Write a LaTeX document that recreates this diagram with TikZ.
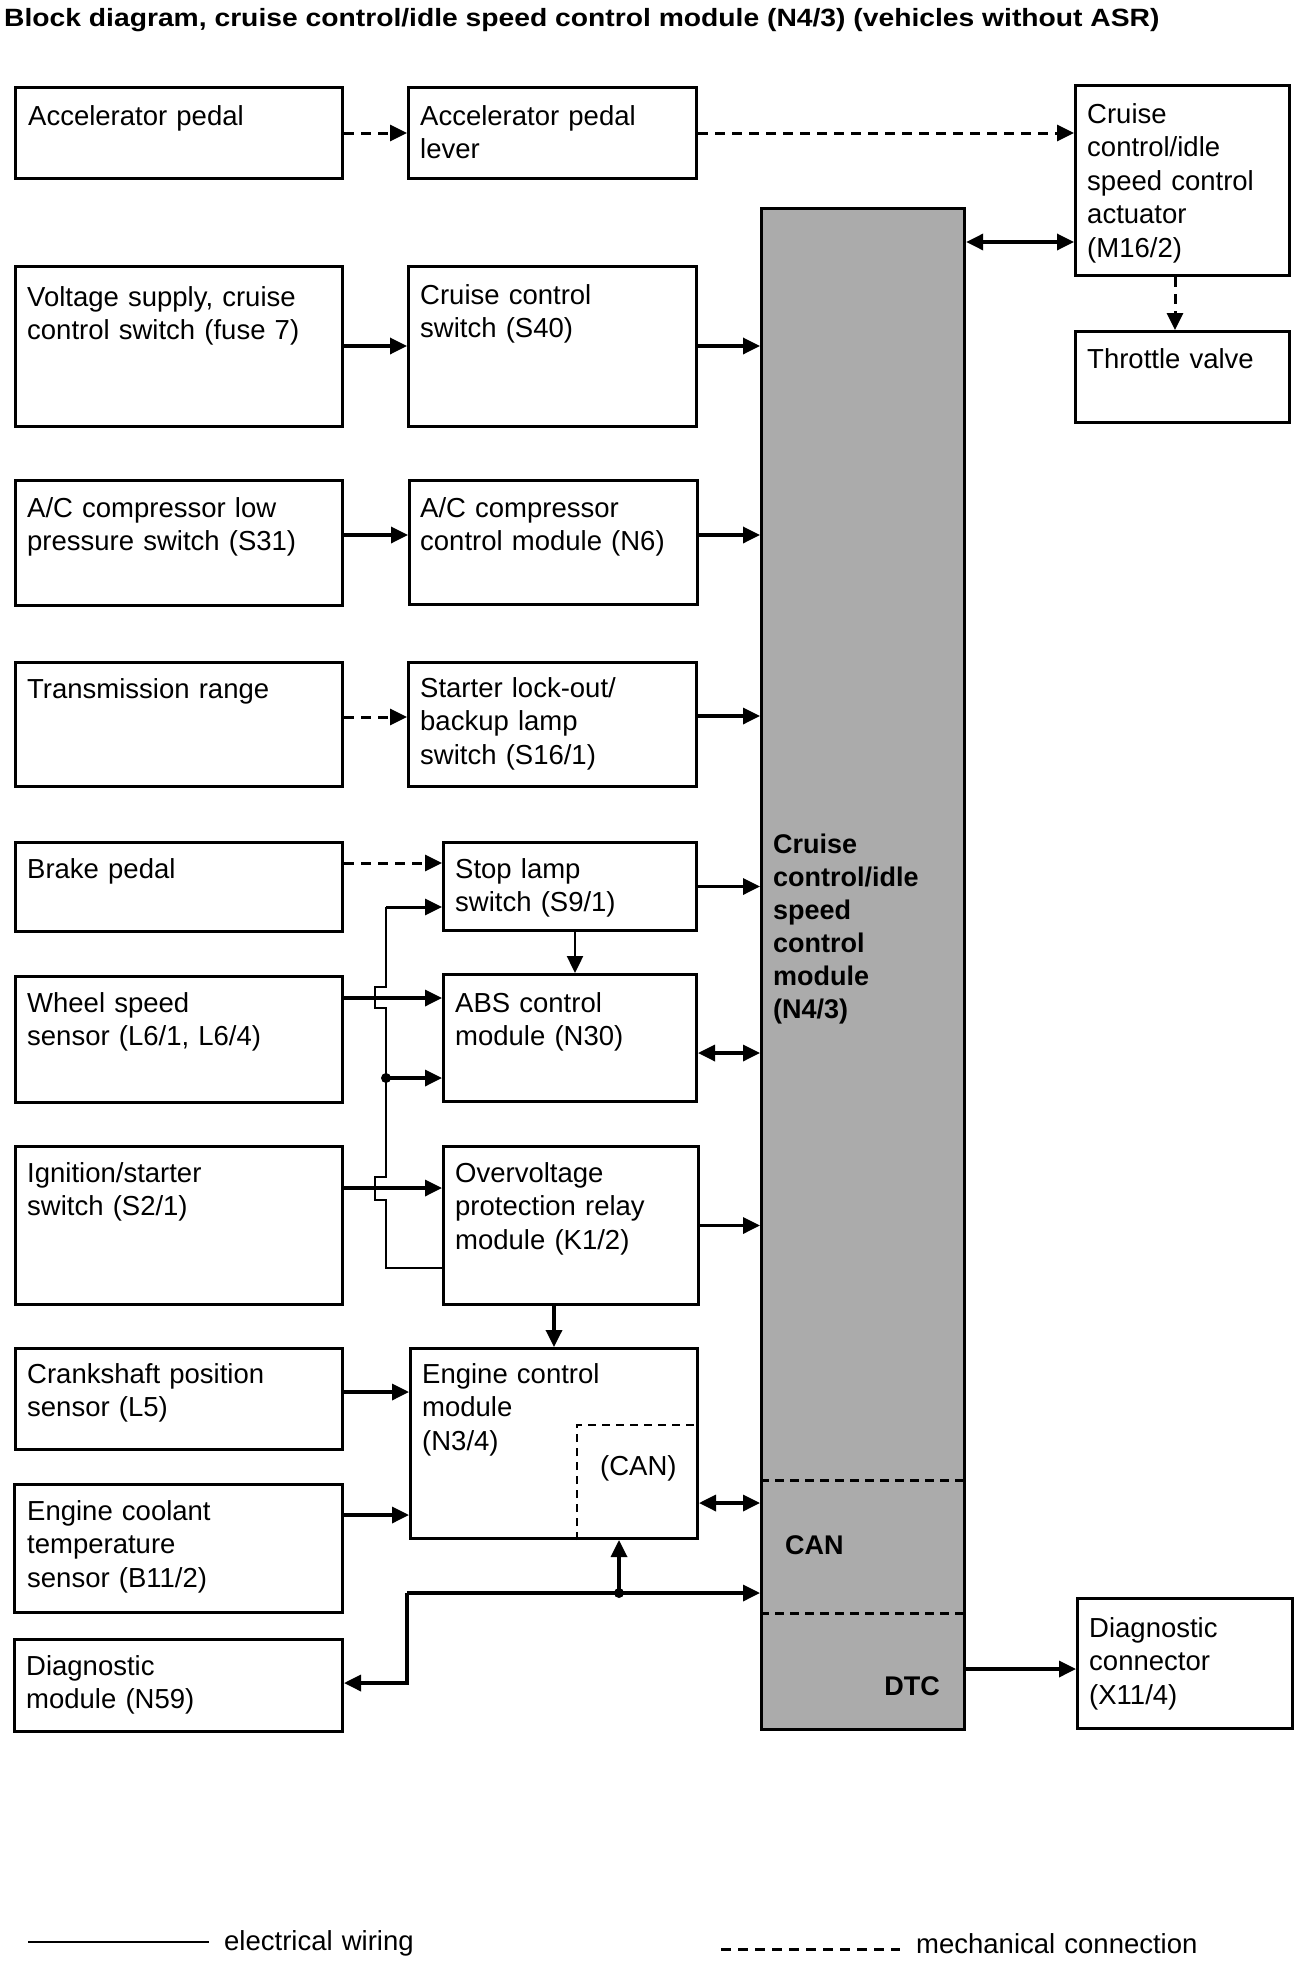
\documentclass[tikz,border=0pt]{standalone}
\usepackage{fontspec}
\setmainfont{Liberation Sans}
\usetikzlibrary{arrows.meta}
\begin{document}
\begin{tikzpicture}[x=1pt,y=-1pt,
  box/.style={draw, line width=3pt, anchor=north west, inner sep=0pt},
  txt/.style={anchor=base west, inner sep=0pt, text width=330pt, align=left,
    font=\fontsize{27.5}{33.5}\selectfont},
  btxt/.style={anchor=base west, inner sep=0pt, text width=200pt, align=left,
    font=\fontsize{27}{33}\selectfont\bfseries},
  tip/.tip={Triangle[length=17pt,width=16pt]},
  el/.style={line width=3.4pt, -tip},
  thinel/.style={line width=2.2pt},
  mech/.style={line width=3pt, dash pattern=on 10pt off 7pt, -tip},
  bi/.style={line width=3.4pt, tip-tip},
  dotn/.style={circle, fill, inner sep=0pt, minimum size=10pt},
  sep/.style={line width=3pt, dash pattern=on 9pt off 6pt}
]
\fill[white] (0,0) rectangle (1312,1962);
\useasboundingbox (0,0) rectangle (1312,1962);

% title
\node[anchor=base west, inner sep=0pt] (title) at (4,27)
  {\scalebox{1.13}[1]{\fontsize{25}{30}\selectfont\bfseries Block diagram, cruise control/idle speed control module (N4/3) (vehicles without ASR)}};

% central module
\node[box, fill=black!33, line width=3.2pt, minimum width=203pt, minimum height=1521pt] (central) at (760,207) {};
\node[btxt] (centralt) at (773,853) {Cruise\\control/idle\\speed\\control\\module\\(N4/3)};
\draw[sep] (central.west |- 0,1480) -- (central.east |- 0,1480);
\draw[sep] (central.west |- 0,1613) -- (central.east |- 0,1613);
\node[btxt] (cant) at (785,1554) {CAN};
\node[anchor=base east, inner sep=0pt, font=\fontsize{27}{33}\selectfont\bfseries] (dtct) at (940,1695) {DTC};

% boxes
\node[box, minimum width=327pt, minimum height=91pt] (acc) at (14,86) {};
\node[txt] (acct) at (28,125) {Accelerator pedal};
\node[box, minimum width=288pt, minimum height=91pt] (lever) at (407,86) {};
\node[txt] (levert) at (420,125) {Accelerator pedal\\lever};
\node[box, minimum width=214pt, minimum height=190pt] (act) at (1074,84) {};
\node[txt] (actt) at (1087,123) {Cruise\\control/idle\\speed control\\actuator\\(M16/2)};
\node[box, minimum width=214pt, minimum height=91pt] (tv) at (1074,330) {};
\node[txt] (tvt) at (1087,368) {Throttle valve};

\node[box, minimum width=327pt, minimum height=160pt] (volt) at (14,265) {};
\node[txt] (voltt) at (27,306) {Voltage supply, cruise\\control switch (fuse 7)};
\node[box, minimum width=288pt, minimum height=160pt] (s40) at (407,265) {};
\node[txt] (s40t) at (420,304) {Cruise control\\switch (S40)};

\node[box, minimum width=327pt, minimum height=125pt] (ac) at (14,479) {};
\node[txt] (act2) at (27,517) {A/C compressor low\\pressure switch (S31)};
\node[box, minimum width=288pt, minimum height=124pt] (n6) at (408,479) {};
\node[txt] (n6t) at (420,517) {A/C compressor\\control module (N6)};

\node[box, minimum width=327pt, minimum height=124pt] (trans) at (14,661) {};
\node[txt] (transt) at (27,698) {Transmission range};
\node[box, minimum width=288pt, minimum height=124pt] (s16) at (407,661) {};
\node[txt] (s16t) at (420,697) {Starter lock-out/\\backup lamp\\switch (S16/1)};

\node[box, minimum width=327pt, minimum height=89pt] (brake) at (14,841) {};
\node[txt] (braket) at (27,878) {Brake pedal};
\node[box, minimum width=253pt, minimum height=88pt] (s9) at (442,841) {};
\node[txt] (s9t) at (455,878) {Stop lamp\\switch (S9/1)};

\node[box, minimum width=327pt, minimum height=126pt] (wheel) at (14,975) {};
\node[txt] (wheelt) at (27,1012) {Wheel speed\\sensor (L6/1, L6/4)};
\node[box, minimum width=253pt, minimum height=127pt] (abs) at (442,973) {};
\node[txt] (abst) at (455,1012) {ABS control\\module (N30)};

\node[box, minimum width=327pt, minimum height=158pt] (ign) at (14,1145) {};
\node[txt] (ignt) at (27,1182) {Ignition/starter\\switch (S2/1)};
\node[box, minimum width=255pt, minimum height=158pt] (ovp) at (442,1145) {};
\node[txt] (ovpt) at (455,1182) {Overvoltage\\protection relay\\module (K1/2)};

\node[box, minimum width=327pt, minimum height=101pt] (crank) at (14,1347) {};
\node[txt] (crankt) at (27,1383) {Crankshaft position\\sensor (L5)};
\node[box, minimum width=287pt, minimum height=190pt] (ecm) at (409,1347) {};
\node[txt] (ecmt) at (422,1383) {Engine control\\module\\(N3/4)};
\draw[line width=2pt, dash pattern=on 8pt off 6pt] (ecm.south -| 577,0) -- (577,1425) -- (ecm.east |- 0,1425);
\node[txt] (canin) at (600,1475) {(CAN)};

\node[box, minimum width=328pt, minimum height=128pt] (cool) at (13,1483) {};
\node[txt] (coolt) at (27,1520) {Engine coolant\\temperature\\sensor (B11/2)};
\node[box, minimum width=328pt, minimum height=92pt] (diag) at (13,1638) {};
\node[txt] (diagt) at (26,1675) {Diagnostic\\module (N59)};
\node[box, minimum width=215pt, minimum height=130pt] (dc) at (1076,1597) {};
\node[txt] (dct) at (1089,1637) {Diagnostic\\connector\\(X11/4)};

% connectors top
\draw[mech] (acc.east) -- (lever.west);
\draw[mech] (lever.east) -- (lever.east -| act.west);
\draw[bi] (central.east |- 0,242) -- (act.west |- 0,242);
\draw[mech] (act.south -| 1175,0) -- (tv.north -| 1175,0);
\draw[el] (volt.east |- 0,346) -- (s40.west |- 0,346);
\draw[el] (s40.east |- 0,346) -- (central.west |- 0,346);
\draw[el] (ac.east |- 0,535) -- (n6.west |- 0,535);
\draw[el] (n6.east |- 0,535) -- (central.west |- 0,535);
\draw[mech] (trans.east |- 0,717) -- (s16.west |- 0,717);
\draw[el] (s16.east |- 0,716) -- (central.west |- 0,716);
\draw[mech] (brake.east |- 0,863) -- (s9.west |- 0,863);
\draw[el] (s9.east) -- (s9.east -| central.west);
\draw[line width=2.4pt, -tip] (s9.south -| 575,0) -- (abs.north -| 575,0);
\draw[el] (wheel.east |- 0,998) -- (abs.west |- 0,998);
\draw[bi] (abs.east |- 0,1053) -- (central.west |- 0,1053);
\draw[el] (ign.east |- 0,1188) -- (ovp.west |- 0,1188);
\draw[el] (ovp.east) -- (ovp.east -| central.west);
\draw[el] (ovp.south -| 554,0) -- (ecm.north -| 554,0);

% supply loop from overvoltage relay
\coordinate (l0) at (386,1268);
\coordinate (l1) at (386,1200);
\coordinate (l2) at (375,1200);
\coordinate (l3) at (375,1177);
\coordinate (l4) at (386,1177);
\coordinate (l5) at (386,1008);
\coordinate (l6) at (375,1008);
\coordinate (l7) at (375,987);
\coordinate (l8) at (386,987);
\coordinate (l9) at (386,907);
\draw[thinel, line join=miter] (ovp.west |- l0) -- (l0) -- (l1) -- (l2) -- (l3) -- (l4) -- (l5) -- (l6) -- (l7) -- (l8) -- (l9);
\draw[line width=3pt, -tip] (l9) -- (s9.west |- l9);
\node[dotn] (j1) at (386,1078) {};
\draw[line width=3.4pt, -tip] (j1.center) -- (abs.west |- j1);

% engine / CAN
\draw[el] (crank.east |- 0,1392) -- (ecm.west |- 0,1392);
\draw[el] (cool.east |- 0,1515) -- (ecm.west |- 0,1515);
\draw[bi] (ecm.east |- 0,1503) -- (central.west |- 0,1503);
\coordinate (b1) at (407,1593);
\coordinate (b2) at (407,1683);
\node[dotn] (j2) at (619,1593) {};
\draw[el] (b1) -- (central.west |- b1);
\draw[el] (j2.center) -- (ecm.south -| j2);
\draw[el, line join=miter] (b1) -- (b2) -- (diag.east |- b2);
\draw[el] (central.east |- 0,1669) -- (dc.west |- 0,1669);

% legend
\coordinate (lg1) at (28,1942);
\coordinate (lg2) at (209,1942);
\draw[line width=2.2pt] (lg1) -- (lg2);
\node[txt] (lgt1) at (224,1950) {electrical wiring};
\coordinate (lg3) at (721,1949);
\coordinate (lg4) at (900,1949);
\draw[line width=3pt, dash pattern=on 10pt off 7pt] (lg3) -- (lg4);
\node[txt] (lgt2) at (916,1953) {mechanical connection};
\end{tikzpicture}
\end{document}
